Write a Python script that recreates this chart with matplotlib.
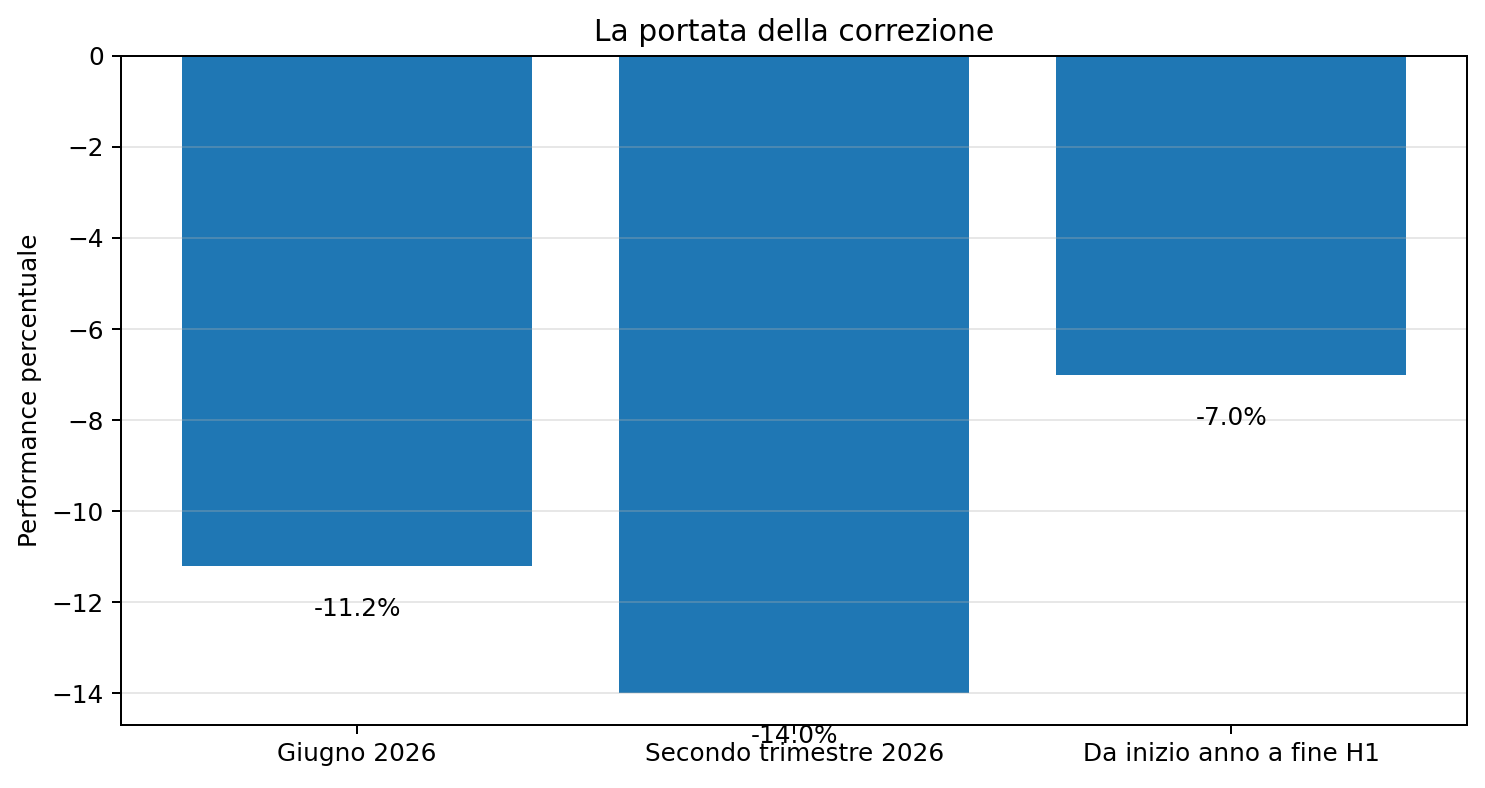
import matplotlib
matplotlib.use("Agg")
import matplotlib.pyplot as plt

### Data ----------------------------------------------------------------------------------------------------------------

categories = ["Giugno 2026", "Secondo trimestre 2026", "Da inizio anno a fine H1"]
performance = [-11.2, -14.0, -7.0]

### Plot ----------------------------------------------------------------------------------------------------------------

dpi = 178.5
fig, ax = plt.subplots(figsize=(1485 / dpi, 788 / dpi), dpi=dpi)
fig.subplots_adjust(left=0.0815, right=0.988, top=0.929, bottom=0.080)

x = range(len(categories))
ax.bar(x, performance, color="#1f77b4", width=0.8)
ax.set_xticks(list(x))
ax.set_xticklabels(categories)

for i, v in enumerate(performance):
    ax.text(i, v - 0.95, f"{v:.1f}%", ha="center", va="center")

ax.set_title("La portata della correzione")
ax.set_ylabel("Performance percentuale")
ax.grid(axis="y", alpha=0.3)

fig.savefig("out.png", dpi=dpi)
